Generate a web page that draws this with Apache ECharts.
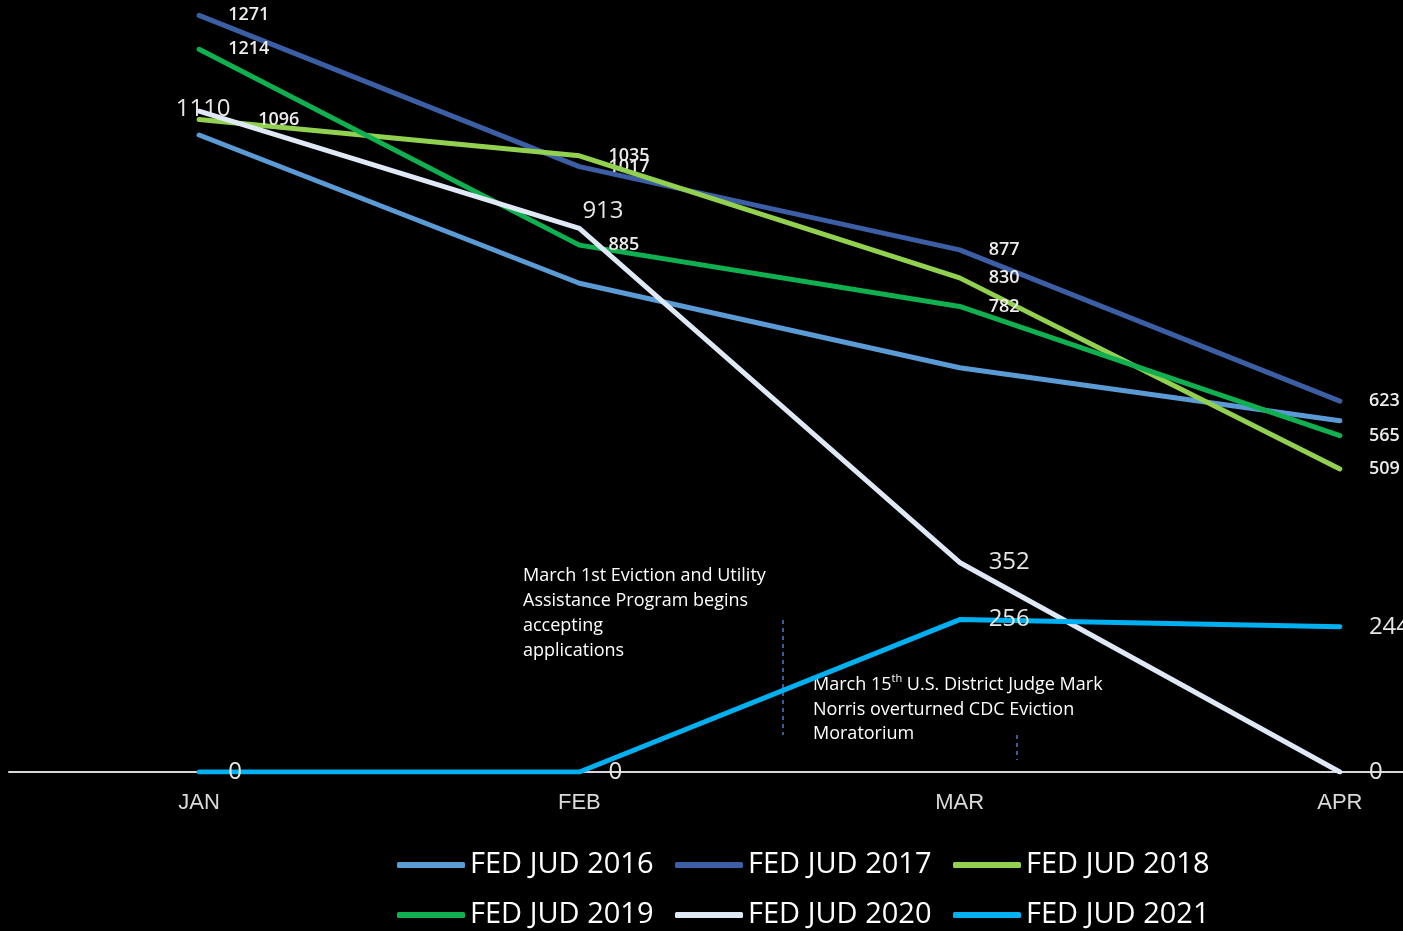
<!DOCTYPE html>
<html>
<head>
<meta charset="utf-8">
<script src="https://cdn.jsdelivr.net/npm/echarts@6/dist/echarts.min.js"></script>
<style>
html,body{margin:0;padding:0;background:#000;}
#c{width:1403px;height:931px;}
</style>
</head>
<body>
<div id="c"></div>
<script>
// ---- data ----
const months = ['JAN', 'FEB', 'MAR', 'APR'];
const seriesNames = ['FED JUD 2016', 'FED JUD 2017', 'FED JUD 2018', 'FED JUD 2019', 'FED JUD 2020', 'FED JUD 2021'];
const fed2016 = [1070, 821, 679, 590];
const fed2017 = [1271, 1017, 877, 623];
const fed2018 = [1096, 1035, 830, 509];
const fed2019 = [1214, 885, 782, 565];
const fed2020 = [1110, 913, 352, 0];
const fed2021 = [0, 0, 256, 244];
const annotation1 = 'March 1st Eviction and Utility\nAssistance Program begins\naccepting\napplications';
const annotation2 = 'March 15{sup|th} U.S. District Judge Mark\nNorris overturned CDC Eviction\nMoratorium';

// ---- styles ----
const colors = ['#5b9bd5', '#3b5ea5', '#92d050', '#10b050', '#dfe9f5', '#00b0f0'];
const values = [fed2016, fed2017, fed2018, fed2019, fed2020, fed2021];
const labelKind = [null, 'small', 'small', 'small', 'big', 'big'];
const smallLabel = { show: true, position: 'right', distance: 28, color: '#ececec', fontSize: 18, fontWeight: 600, fontFamily: 'Open Sans' };
const bigLabel = { show: true, position: 'right', distance: 28, color: '#e6e6e6', fontSize: 24, fontFamily: 'Open Sans' };
// per-point label tweaks (series index -> point index -> label override)
const labelTweaks = {
  2: { 0: { offset: [30, 0] } },
  4: { 0: { position: 'inside', offset: [4, -2] }, 1: { offset: [-26, -17] } }
};

const series = values.map((vals, si) => {
  const kind = labelKind[si];
  return {
    name: seriesNames[si],
    type: 'line',
    data: vals.map((v, pi) => {
      const t = labelTweaks[si] && labelTweaks[si][pi];
      return t ? { value: v, label: t } : v;
    }),
    symbol: 'circle',
    symbolSize: 2,
    showSymbol: true,
    itemStyle: { color: colors[si] },
    lineStyle: { color: colors[si], width: 5, cap: 'round', join: 'round' },
    label: kind === 'small' ? smallLabel : (kind === 'big' ? bigLabel : { show: false }),
    emphasis: { disabled: true },
    z: 2 + si
  };
});

const legendText = { color: '#ffffff', fontSize: 29, fontFamily: 'Open Sans', width: 200, lineHeight: 30 };
const chart = echarts.init(document.getElementById('c'), null, { renderer: 'canvas' });
chart.setOption({
  backgroundColor: '#000000',
  animation: false,
  grid: { left: 9, right: -127, top: 10, bottom: 159, containLabel: false, outerBoundsMode: 'none' },
  xAxis: {
    type: 'category',
    data: months,
    boundaryGap: true,
    axisLine: { show: true, lineStyle: { color: '#d9d9d9', width: 2 } },
    axisTick: { show: false },
    axisLabel: { color: '#d9d9d9', fontSize: 22, fontFamily: 'Liberation Sans', margin: 20 },
    splitLine: { show: false }
  },
  yAxis: { type: 'value', min: 0, max: 1280, show: false, splitLine: { show: false } },
  legend: [
    {
      data: seriesNames.slice(0, 3), left: 397, top: 850, orient: 'horizontal', padding: 0,
      icon: 'roundRect', itemWidth: 68, itemHeight: 6, itemGap: 5, selectedMode: false,
      textStyle: legendText
    },
    {
      data: seriesNames.slice(3, 6), left: 397, top: 900, orient: 'horizontal', padding: 0,
      icon: 'roundRect', itemWidth: 68, itemHeight: 6, itemGap: 5, selectedMode: false,
      textStyle: legendText
    }
  ],
  graphic: [
    {
      type: 'text', left: 523, top: 564, silent: true,
      style: { text: annotation1, fill: '#ffffff', font: '18px "Open Sans"', lineHeight: 24.7 }
    },
    {
      type: 'text', left: 813, top: 673, silent: true,
      style: {
        text: annotation2, fill: '#ffffff', font: '18px "Open Sans"', lineHeight: 24.3,
        rich: { sup: { fontSize: 11, fontFamily: 'Open Sans', verticalAlign: 'top', lineHeight: 24.3, padding: [0, 0, 6, 0], fill: '#ffffff' } }
      }
    },
    {
      type: 'line', silent: true,
      shape: { x1: 783, y1: 620, x2: 783, y2: 735 },
      style: { stroke: '#5590e0', lineWidth: 1.3, lineDash: [4, 4] }
    },
    {
      type: 'line', silent: true,
      shape: { x1: 1017, y1: 735, x2: 1017, y2: 760 },
      style: { stroke: '#5590e0', lineWidth: 1.3, lineDash: [4, 4] }
    }
  ],
  series: series
});
</script>
</body>
</html>
